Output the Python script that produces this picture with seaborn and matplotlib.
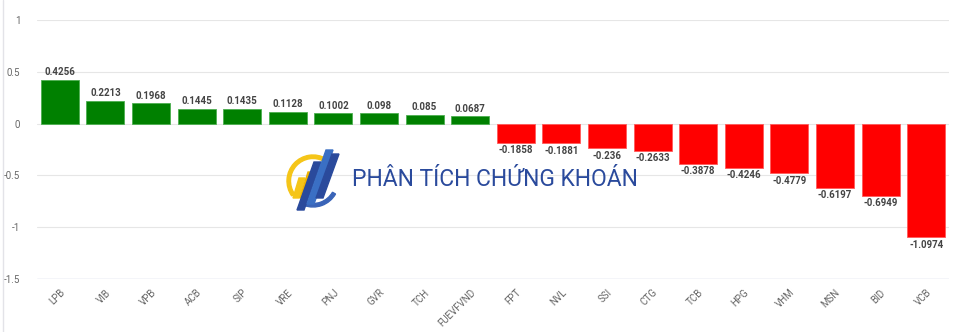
import matplotlib
matplotlib.use("Agg")
import matplotlib.pyplot as plt
import seaborn as sns
import pandas as pd
from matplotlib.patches import Wedge, Polygon

tickers = ["LPB", "VIB", "VPB", "ACB", "SIP", "VRE", "PNJ", "GVR", "TCH", "FUEVFVND",
           "FPT", "NVL", "SSI", "CTG", "TCB", "HPG", "VHM", "MSN", "BID", "VCB"]
impact = [0.4256, 0.2213, 0.1968, 0.1445, 0.1435, 0.1128, 0.1002, 0.098, 0.085, 0.0687,
          -0.1858, -0.1881, -0.236, -0.2633, -0.3878, -0.4246, -0.4779, -0.6197, -0.6949, -1.0974]
label_texts = ["0.4256", "0.2213", "0.1968", "0.1445", "0.1435", "0.1128", "0.1002", "0.098", "0.085", "0.0687",
               "-0.1858", "-0.1881", "-0.236", "-0.2633", "-0.3878", "-0.4246", "-0.4779", "-0.6197", "-0.6949", "-1.0974"]
y_ticks = [1, 0.5, 0, -0.5, -1, -1.5]

df = pd.DataFrame({"ticker": tickers, "impact": impact})
df["side"] = ["up" if v >= 0 else "down" for v in impact]

sns.set_theme(style="white")
plt.rcParams["font.family"] = ["Roboto", "DejaVu Sans"]

fig = plt.figure(figsize=(9.65, 3.32), dpi=100)
ax = fig.add_axes([37 / 965, 1 - 279 / 332, 912 / 965, 259 / 332])

sns.barplot(data=df, x="ticker", y="impact", hue="side",
            palette={"up": "#008000", "down": "#ff0000"}, saturation=1,
            width=0.83, dodge=False, legend=False, ax=ax, linewidth=0.6)
for p in ax.patches:
    fc = p.get_facecolor()
    p.set_edgecolor("#4caf50" if fc[1] > 0.4 else "#ff5a5a")

ax.set_ylim(-1.5, 1)
ax.set_xlim(-0.5, len(tickers) - 0.5)
ax.set_yticks(y_ticks)
ax.set_yticklabels([f"{t:g}" for t in y_ticks])
ax.set_xlabel("")
ax.set_ylabel("")
ax.grid(axis="y", color="#e6e6e6", linewidth=0.8)
ax.set_axisbelow(True)
for s in ["top", "right", "left", "bottom"]:
    ax.spines[s].set_visible(False)
ax.axhline(-1.5, color="#ccd6eb", linewidth=1.0, zorder=0.5)
ax.tick_params(axis="both", length=0, colors="#666666", labelsize=7)
ax.tick_params(axis="y", pad=12)
plt.setp(ax.get_xticklabels(), rotation=45, ha="right", rotation_mode="anchor")
ax.tick_params(axis="x", pad=6)

for i, (v, txt) in enumerate(zip(impact, label_texts)):
    off = 0.025 if v >= 0 else -0.025
    ax.text(i, v + off, txt, ha="center", va="bottom" if v >= 0 else "top",
            fontsize=7, color="#444444", fontweight="bold")

# watermark: logo + name
fig.text(352 / 965, 1 - 180 / 332, "PHÂN TÍCH CHỨNG KHOÁN", fontsize=16.5,
         color="#2a4a9c", ha="left", va="center", family=["Roboto", "DejaVu Sans"])
lax = fig.add_axes([283 / 965, 1 - 212 / 332, 64 / 965, 64 / 332])
lax.set_xlim(0, 64)
lax.set_ylim(0, 64)
lax.set_aspect("equal")
lax.axis("off")
lax.add_patch(Wedge((30, 31), 26, 60, 215, width=3.5, color="#f5c518"))
lax.add_patch(Wedge((30, 31), 26, 250, 330, width=3.5, color="#3a64b8"))
lax.add_patch(Polygon([[10, 14], [16, 14], [22, 34], [16, 34]], color="#f5c518"))
lax.add_patch(Polygon([[17, 14], [23, 14], [31, 40], [25, 40]], color="#f0b400"))
lax.add_patch(Polygon([[14, 2], [21, 2], [38, 50], [31, 50]], color="#2a4a9c"))
lax.add_patch(Polygon([[24, 8], [31, 8], [50, 62], [43, 62]], color="#3a6fc4"))
lax.add_patch(Polygon([[33, 14], [40, 14], [56, 58], [49, 58]], color="#2a4a9c"))

fig.add_artist(plt.Line2D([3 / 965, 3 / 965], [0, 1], color="#e3e3e8", linewidth=1))

fig.savefig("out.png", dpi=100)
